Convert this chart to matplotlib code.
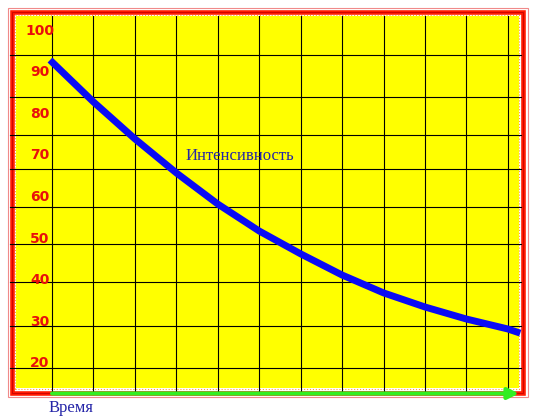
import matplotlib
matplotlib.use("Agg")
import matplotlib.pyplot as plt
from matplotlib.patches import Rectangle

# Dades llegides del grafic
temps = [-0.05, 1, 2, 3, 4, 5, 6, 7, 8, 9, 10, 11, 11.3]
intensitat = [93.0, 82.9, 74.0, 65.8, 58.3, 51.8, 46.3, 41.2, 36.9, 33.5, 30.6, 28.2, 27.2]
etiquetes_y = [100, 90, 80, 70, 60, 50, 40, 30, 20]
linies_x = list(range(12))
linies_y = [94.2, 84.2, 74.9, 66.8, 57.7, 48.6, 39.5, 29.0, 18.8]

W, H = 535, 420


def fig_rect(x0, y0, x1, y1):
    # caixa en pixels (origen a dalt a l'esquerra) -> fraccio de figura
    return x0 / W, 1 - y1 / H, (x1 - x0) / W, (y1 - y0) / H


def marc(x0, y0, x1, y1, **kw):
    l, b, w, h = fig_rect(x0, y0, x1, y1)
    fig.add_artist(Rectangle((l, b), w, h, transform=fig.transFigure,
                             fill=False, zorder=-1, **kw))


fig = plt.figure(figsize=(W / 100, H / 100), dpi=100, facecolor="white")

# Area groga del grafic
l, b, w, h = fig_rect(15.5, 15.5, 519, 388)
ax = fig.add_axes([l, b, w, h])
ax.set_facecolor("#ffff00")
ax.set_xlim(-0.8825, 11.27)
ax.set_ylim(13.98, 103.73)
for s in ax.spines.values():
    s.set_visible(False)
ax.set_xticks([])
ax.set_yticks([])

# Quadricula
for x in linies_x:
    ax.axvline(x, ymin=-0.015, ymax=1, color="black", lw=0.8, clip_on=False, zorder=1)
for y in linies_y:
    ax.axhline(y, xmin=-0.011, xmax=1.004, color="black", lw=0.8, clip_on=False, zorder=1)

# Corba
ax.plot(temps, intensitat, color="#0a0af5", lw=5, solid_capstyle="butt",
        solid_joinstyle="round", clip_on=False, zorder=3)

# Etiquetes de l'eix y
for v in etiquetes_y:
    ax.text(-0.29, v, str(v), color="#e8100c", fontsize=10, fontweight="bold",
            ha="center", va="center", family="DejaVu Sans", zorder=4)

ax.text(3.22, 69.9, "Интенсивность", color="#2424a8", fontsize=12,
        family="Liberation Serif", ha="left", va="center", zorder=4)

# Fletxa verda (eix del temps)
ax.annotate("", xy=(11.27, -0.0148), xytext=(0, -0.0148),
            xycoords=ax.get_xaxis_transform(), annotation_clip=False,
            arrowprops=dict(arrowstyle="-|>", color="#33ee22", lw=3,
                            mutation_scale=16, shrinkA=0, shrinkB=0), zorder=5)

fig.text(49 / W, 1 - 408 / H, "Время", color="#2424a8", fontsize=12,
         family="Liberation Serif", ha="left", va="center")

# Marcs
marc(7.5, 7.5, 527.5, 397, ec="#f08a8a", lw=0.8)
marc(11.75, 11.75, 522.5, 392.5, ec="#ff1a00", lw=3.3)
marc(11.75, 11.75, 522.5, 392.5, ec="#c80000", lw=0.6)
marc(15, 15, 519, 389, ec="#ff9a40", lw=0.8, ls=":")

fig.savefig("out.png", dpi=100)
